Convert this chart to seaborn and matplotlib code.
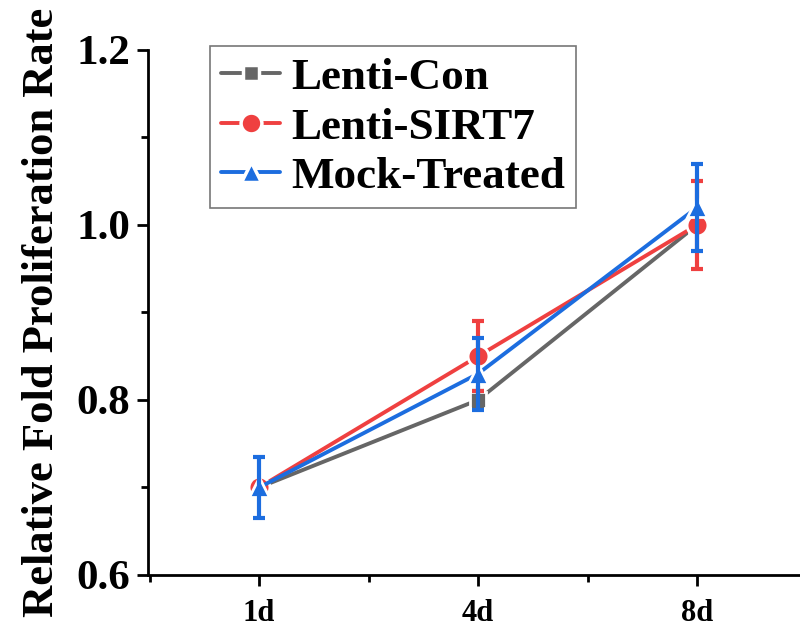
import matplotlib
matplotlib.use("Agg")
import matplotlib.pyplot as plt
import seaborn as sns
import pandas as pd
from matplotlib.ticker import MultipleLocator
from matplotlib.lines import Line2D

days = ["1d", "4d", "8d"]
series = ["Lenti-Con", "Lenti-SIRT7", "Mock-Treated"]
con_vals = [0.70, 0.80, 1.00]
con_err = [0.005, 0.01, 0.005]
sirt_vals = [0.70, 0.85, 1.00]
sirt_err = [0.005, 0.04, 0.05]
mock_vals = [0.70, 0.83, 1.02]
mock_err = [0.035, 0.041, 0.05]

colors = {"Lenti-Con": "#666666", "Lenti-SIRT7": "#EF4040", "Mock-Treated": "#1C6DDF"}
markers = {"Lenti-Con": "s", "Lenti-SIRT7": "o", "Mock-Treated": "^"}
msize = {"Lenti-Con": 11, "Lenti-SIRT7": 15, "Mock-Treated": 15}

rows = []
for name, vals, errs in [("Lenti-Con", con_vals, con_err),
                         ("Lenti-SIRT7", sirt_vals, sirt_err),
                         ("Mock-Treated", mock_vals, mock_err)]:
    for i, (d, v, e) in enumerate(zip(days, vals, errs)):
        rows.append({"day": d, "x": i, "value": v, "err": e, "series": name})
df = pd.DataFrame(rows)

sns.set_style("ticks")
plt.rcParams["font.family"] = ["Liberation Serif", "DejaVu Serif"]
plt.rcParams["font.weight"] = "bold"
for key in ["text.color", "axes.labelcolor", "xtick.color", "ytick.color", "axes.edgecolor"]:
    plt.rcParams[key] = "black"

fig = plt.figure(figsize=(8.0, 6.26), dpi=100)
ax = fig.add_axes([0.185, 0.0815, 0.815, 0.8387])

for z, name in enumerate(series):
    sub = df[df["series"] == name]
    sns.lineplot(data=sub, x="x", y="value", ax=ax, color=colors[name],
                 linewidth=2.8, marker=markers[name], markersize=msize[name],
                 markeredgecolor="white", markeredgewidth=2.0,
                 label=name, zorder=3 + 2 * z, legend=False)
    ax.errorbar(sub["x"], sub["value"], yerr=sub["err"], fmt="none",
                ecolor=colors[name], elinewidth=3, capsize=4.5, capthick=3,
                zorder=4 + 2 * z)

ax.set_xlim(-0.507, 2.47)
ax.set_ylim(0.6, 1.2)
ax.set_xticks([0, 1, 2])
ax.set_xticklabels(days)
ax.xaxis.set_minor_locator(MultipleLocator(0.5))
ax.yaxis.set_major_locator(MultipleLocator(0.2))
ax.yaxis.set_minor_locator(MultipleLocator(0.1))
ax.set_yticklabels([f"{v:.1f}" for v in ax.get_yticks()])
ax.tick_params(axis="both", which="major", length=8, width=2, direction="out", colors="black")
ax.tick_params(axis="both", which="minor", length=5, width=2, direction="out", colors="black")
ax.tick_params(axis="y", labelsize=31, pad=5)
ax.tick_params(axis="x", labelsize=22, pad=9)
for lab in ax.get_xticklabels() + ax.get_yticklabels():
    lab.set_fontweight("bold")
ax.set_xlabel("")
ax.set_ylabel("Relative Fold Proliferation Rate", fontsize=32, fontweight="bold",
              labelpad=10, color="black")
for s in ["top", "right"]:
    ax.spines[s].set_visible(False)
for s in ["left", "bottom"]:
    ax.spines[s].set_linewidth(2)
    ax.spines[s].set_color("black")

handles = [Line2D([0], [0], color=colors[n], linewidth=2.8, marker=markers[n],
                  markersize=msize[n], markeredgecolor="white",
                  markeredgewidth=2.5, linestyle="-")
           for n in series]
leg = ax.legend(handles, series, loc="upper left",
                bbox_to_anchor=(210 / 800, 1 - 46 / 626), bbox_transform=fig.transFigure,
                frameon=True, fancybox=False, edgecolor="#777777", framealpha=1,
                prop={"family": "Liberation Serif", "weight": "bold", "size": 32.5},
                handlelength=1.3, handletextpad=0.25, borderpad=0.25, labelspacing=0.2,
                borderaxespad=0, labelcolor="black")
leg.get_frame().set_linewidth(1.2)

fig.savefig("out.png", dpi=100)
